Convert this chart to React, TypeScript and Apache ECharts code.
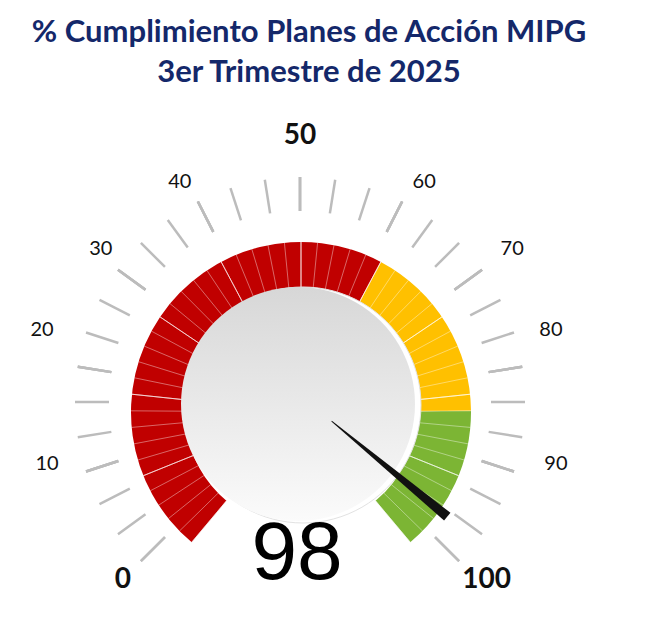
import * as echarts from 'echarts';
import React, { useEffect, useRef } from 'react';

const titleLines = ['% Cumplimiento Planes de Acción MIPG', '3er Trimestre de 2025'];
const gaugeValue = [98];
const scaleRange = [0, 100];
const boldTicks = [0, 50, 100];
// Excel coloca las etiquetas en elipse: se reparten en dos anillos
const sideLabels = [0, 10, 20, 80, 90, 100];
const upperLabels = [30, 40, 50, 60, 70];
// tramos de color del anillo (fracción del arco, color)
const bandStops = [0.6, 0.82, 1];
const bandColors = ['#c00000', '#ffc000', '#7cb534'];

// caja de cada etiqueta (ancho, alto de línea) para centrarla como en Excel
const labelBox: Record<number, [number, number]> = {
  0: [43, 24],
  10: [32, 24],
  20: [43, 24],
  30: [87, 24],
  40: [32, 48],
  50: [50, 19],
  60: [24, 48],
  70: [61, 24],
  80: [77, 24],
  90: [46, 24],
  100: [44, 24],
};

const labelGauge = (center: number[], distance: number, shown: number[]) => {
  const rich: Record<string, object> = {};
  shown.forEach((n) => {
    const bold = boldTicks.includes(n);
    rich['v' + n] = {
      width: labelBox[n][0],
      lineHeight: labelBox[n][1],
      align: 'center',
      fontFamily: 'Lato',
      fontSize: bold ? 28 : 20,
      fontWeight: bold ? 'bold' : 'normal',
      color: '#111',
    };
  });
  return {
    type: 'gauge',
    z: 5,
    center,
    radius: 226,
    startAngle: 225,
    endAngle: -45,
    min: scaleRange[0],
    max: scaleRange[1],
    splitNumber: 10,
    axisLine: { show: false, lineStyle: { width: 0 } },
    splitLine: { show: false, length: 35, distance: 10 },
    axisTick: { show: false },
    axisLabel: {
      distance,
      formatter: (v: number) => {
        const n = Math.round(v);
        return shown.includes(n) ? `{v${n}|${n}}` : '';
      },
      rich,
    },
    pointer: { show: false },
    title: { show: false },
    detail: { show: false },
    data: [],
  };
};

const App: React.FC = () => {
  const chartRef = useRef<HTMLDivElement>(null);

  useEffect(() => {
    if (!chartRef.current) return;
    const chart = echarts.init(chartRef.current, undefined, { renderer: 'svg' });

    const bands = bandStops.map((s, i) => [s, bandColors[i]]);

    chart.setOption({
      animation: false,
      title: {
        text: titleLines.join('\n'),
        left: 296,
        textAlign: 'center',
        top: -3,
        textStyle: {
          fontFamily: 'Lato',
          fontWeight: 'bold',
          fontSize: 31,
          lineHeight: 40,
          color: '#14286a',
        },
      },
      graphic: [
        {
          type: 'circle',
          z: 3,
          shape: { cx: 295, cy: 397, r: 118 },
          style: { fill: '#ffffff', stroke: '#e2e2e2', lineWidth: 1 },
        },
        {
          type: 'circle',
          z: 4,
          shape: { cx: 290, cy: 396, r: 117 },
          style: {
            fill: new echarts.graphic.LinearGradient(0, 0, 0, 1, [
              { offset: 0, color: '#d7d7d7' },
              { offset: 1, color: '#fbfbfb' },
            ]),
          },
        },
      ],
      series: [
        {
          // anillo de colores
          type: 'gauge',
          z: 2,
          center: [293, 404],
          radius: 170,
          startAngle: 230,
          endAngle: -50,
          min: scaleRange[0],
          max: scaleRange[1],
          splitNumber: 10,
          axisLine: { lineStyle: { width: 54, color: bands } },
          splitLine: {
            distance: -54,
            length: 54,
            lineStyle: { color: 'rgba(255,255,255,0.5)', width: 1 },
          },
          axisTick: {
            splitNumber: 5,
            distance: -54,
            length: 54,
            lineStyle: { color: 'rgba(255,255,255,0.4)', width: 1 },
          },
          axisLabel: { show: false },
          pointer: { show: false },
          title: { show: false },
          detail: { show: false },
          data: [],
        },
        labelGauge([297, 365], -107, sideLabels),
        labelGauge([292, 415], -119, upperLabels),
        {
          // marcas
          type: 'gauge',
          z: 6,
          center: [292, 394],
          radius: 225,
          startAngle: 225,
          endAngle: -45,
          min: scaleRange[0],
          max: scaleRange[1],
          splitNumber: 10,
          axisLine: { show: false, lineStyle: { width: 0 } },
          splitLine: {
            distance: 0,
            length: 34,
            lineStyle: { color: '#bcbcbc', width: 2.5 },
          },
          axisTick: {
            splitNumber: 3,
            distance: 0,
            length: 34,
            lineStyle: { color: '#bcbcbc', width: 2.5 },
          },
          axisLabel: { show: false },
          pointer: { show: false },
          title: { show: false },
          detail: { show: false },
          data: [],
        },
        {
          // aguja y valor
          type: 'gauge',
          z: 10,
          center: [292, 387],
          radius: 226,
          startAngle: 225,
          endAngle: -45,
          min: scaleRange[0],
          max: scaleRange[1],
          axisLine: { show: false, lineStyle: { width: 0 } },
          splitLine: { show: false },
          axisTick: { show: false },
          axisLabel: { show: false },
          pointer: {
            show: true,
            icon: 'path://M0,0 L10,0 L5.4,100 L4.6,100 Z',
            length: 150,
            width: 10,
            offsetCenter: [0, -41],
            keepAspect: false,
            itemStyle: { color: '#111111' },
          },
          anchor: { show: false },
          title: { show: false },
          detail: {
            offsetCenter: [-3, 155],
            fontFamily: 'Liberation Sans',
            fontSize: 82,
            fontWeight: 'normal',
            color: '#000',
            formatter: '{value}',
          },
          data: [{ value: gaugeValue[0] }],
        },
      ],
    });

    return () => {
      chart.dispose();
    };
  }, []);

  return <div ref={chartRef} style={{ width: 633, height: 607 }} />;
};

export default App;
